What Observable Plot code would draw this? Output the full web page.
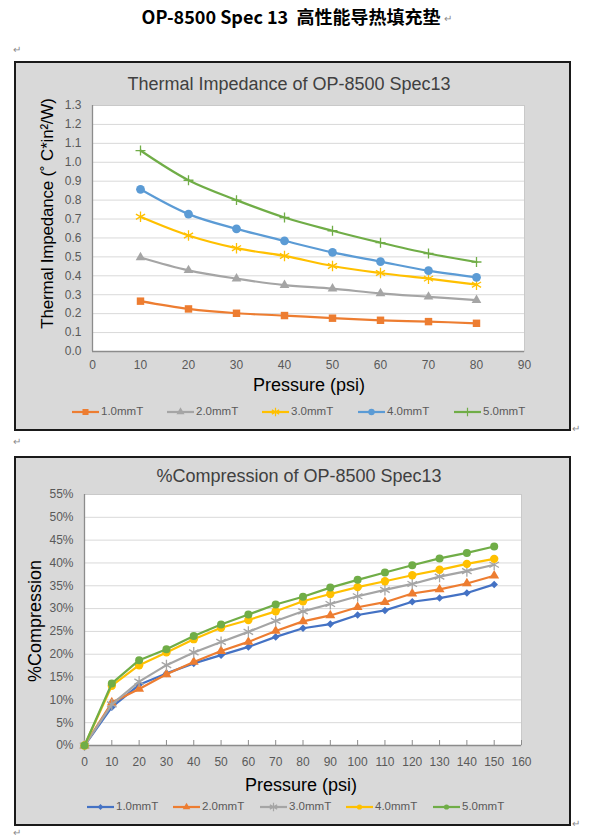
<!DOCTYPE html>
<html><head><meta charset="utf-8">
<script src="https://cdn.jsdelivr.net/npm/d3@7"></script>
<script src="https://cdn.jsdelivr.net/npm/@observablehq/plot@0.6"></script>
<style>
body{margin:0;background:#fff;}
#page{position:relative;width:590px;height:839px;overflow:hidden;font-family:"Liberation Sans",Arial,sans-serif;}
.abs{position:absolute;white-space:pre;line-height:1;}
.box{position:absolute;background:#d9d9d9;border:2px solid #1a1a1a;box-sizing:border-box;}
.ret{position:absolute;color:#8a8a8a;font-size:10px;line-height:1;}
</style></head><body><div id="page"></div>
<script>
// ---------- data ----------
const seriesNames = ["1.0mmT", "2.0mmT", "3.0mmT", "4.0mmT", "5.0mmT"];

// Thermal impedance chart
const pressure1 = [10, 20, 30, 40, 50, 60, 70, 80];
const imp1_0 = [0.266, 0.225, 0.202, 0.190, 0.176, 0.165, 0.158, 0.149];
const imp2_0 = [0.497, 0.429, 0.385, 0.351, 0.332, 0.307, 0.289, 0.271];
const imp3_0 = [0.712, 0.613, 0.546, 0.505, 0.452, 0.415, 0.385, 0.353];
const imp4_0 = [0.857, 0.726, 0.648, 0.585, 0.524, 0.475, 0.427, 0.392];
const imp5_0 = [1.062, 0.905, 0.800, 0.708, 0.638, 0.575, 0.518, 0.473];
const impTicksY = [0, 0.1, 0.2, 0.3, 0.4, 0.5, 0.6, 0.7, 0.8, 0.9, 1.0, 1.1, 1.2, 1.3];
const impTicksX = [0, 10, 20, 30, 40, 50, 60, 70, 80, 90];

// Compression chart (%)
const pressure2 = [0, 10, 20, 30, 40, 50, 60, 70, 80, 90, 100, 110, 120, 130, 140, 150];
const comp1_0 = [0, 8.4, 13.3, 15.8, 18.0, 19.8, 21.6, 23.8, 25.7, 26.6, 28.6, 29.6, 31.5, 32.3, 33.4, 35.3];
const comp2_0 = [0, 9.4, 12.4, 15.6, 18.3, 20.7, 22.7, 25.1, 27.2, 28.5, 30.3, 31.4, 33.3, 34.2, 35.5, 37.2];
const comp3_0 = [0, 9.0, 14.0, 17.6, 20.4, 22.7, 24.9, 27.3, 29.4, 31.0, 32.7, 34.1, 35.4, 37.0, 38.2, 39.6];
const comp4_0 = [0, 13.1, 17.6, 20.4, 23.3, 25.8, 27.5, 29.4, 31.6, 33.2, 34.7, 36.0, 37.3, 38.5, 39.8, 40.9];
const comp5_0 = [0, 13.6, 18.7, 21.1, 24.0, 26.5, 28.7, 30.9, 32.6, 34.6, 36.3, 37.9, 39.5, 41.0, 42.2, 43.6];
const compTicksY = [0, 5, 10, 15, 20, 25, 30, 35, 40, 45, 50, 55];
const compTicksX = [0, 10, 20, 30, 40, 50, 60, 70, 80, 90, 100, 110, 120, 130, 140, 150, 160];

// ---------- styles ----------
const impStyles = [
  {color: "#ED7D31", symbol: "square", r: 4.2, filled: true, lr: 3.4},
  {color: "#A5A5A5", symbol: "triangle", r: 3.6, filled: true, lr: 3.0},
  {color: "#FFC000", symbol: "asterisk", r: 5.0, filled: false, lr: 4.0},
  {color: "#5B9BD5", symbol: "circle", r: 4.4, filled: true, lr: 3.2},
  {color: "#70AD47", symbol: "plus", r: 3.3, filled: false, lr: 2.8}
];
const compStyles = [
  {color: "#4472C4", symbol: "diamond2", r: 3.4, filled: true, lr: 2.6},
  {color: "#ED7D31", symbol: "triangle", r: 3.7, filled: true, lr: 2.8},
  {color: "#A5A5A5", symbol: "asterisk", r: 5.2, filled: false, lr: 4.0},
  {color: "#FFC000", symbol: "circle", r: 4.2, filled: true, lr: 2.6},
  {color: "#70AD47", symbol: "circle", r: 4.0, filled: true, lr: 2.6}
];

const page = document.getElementById("page");
function addDiv(cls, text, css) {
  const d = document.createElement("div");
  d.className = cls;
  d.textContent = text;
  Object.assign(d.style, css);
  page.appendChild(d);
  return d;
}

// title
addDiv("abs", "OP-8500 Spec 13  高性能导热填充垫", {
  left: "0px", width: "582px", top: "7px", textAlign: "center",
  fontFamily: "'Noto Sans CJK SC', sans-serif", fontWeight: "bold", fontSize: "18px", color: "#000"
});
addDiv("ret", "↵", {left: "444px", top: "14px"});
addDiv("ret", "↵", {left: "13px", top: "45px"});
addDiv("ret", "↵", {left: "572px", top: "424px"});
addDiv("ret", "↵", {left: "13px", top: "437px"});
addDiv("ret", "↵", {left: "572px", top: "819px"});
addDiv("ret", "↵", {left: "13px", top: "828px"});

function chart(cfg) {
  const box = document.createElement("div");
  box.className = "box";
  Object.assign(box.style, {left: "14px", top: cfg.top + "px", width: "557px", height: cfg.height + "px"});
  page.appendChild(box);

  const marks = [
    Plot.frame({fill: "#fff"}),
    Plot.gridY(cfg.yTicks, {stroke: "#d9d9d9", strokeOpacity: 1, strokeWidth: 1}),
    Plot.frame({stroke: "#c9c9c9"}),
    Plot.ruleX([cfg.xDomain[0]], {stroke: "#8c8c8c", strokeWidth: 1.3}),
    Plot.ruleY([cfg.yDomain[0]], {stroke: "#8c8c8c", strokeWidth: 1.3}),
    Plot.axisY(cfg.yTicks, {tickSize: 0, tickPadding: cfg.yPad, tickFormat: cfg.yFmt, fill: "#595959", fontSize: 12, label: null}),
    Plot.axisX(cfg.xTicks, {tickSize: 0, tickPadding: cfg.xPad, fill: "#595959", fontSize: 12, label: null})
  ];
  if (cfg.innerTicks) {
    const len = 5 / (cfg.height - cfg.mt - cfg.mb) * (cfg.yDomain[1] - cfg.yDomain[0]);
    marks.push(Plot.ruleX(cfg.xTicks, {x: d => d, y1: cfg.yDomain[0], y2: cfg.yDomain[0] + len, stroke: "#8c8c8c", strokeWidth: 1}));
  }
  cfg.series.forEach((vals, i) => {
    const s = cfg.styles[i];
    const data = cfg.xs.map((x, j) => ({x, y: vals[j]}));
    marks.push(Plot.line(data, {x: "x", y: "y", stroke: s.color, strokeWidth: 2.2, curve: cfg.curve}));
    marks.push(Plot.dot(data, s.filled
      ? {x: "x", y: "y", symbol: s.symbol, r: s.r, fill: s.color, stroke: "none"}
      : {x: "x", y: "y", symbol: s.symbol, r: s.r, fill: "none", stroke: s.color, strokeWidth: 1.3}));
  });

  const svg = Plot.plot({
    width: 590, height: cfg.height,
    marginLeft: cfg.ml, marginRight: cfg.mr, marginTop: cfg.mt, marginBottom: cfg.mb,
    x: {domain: cfg.xDomain},
    y: {domain: cfg.yDomain},
    style: {background: "transparent", fontFamily: "'Liberation Sans', Arial, sans-serif", overflow: "visible"},
    marks
  });
  Object.assign(svg.style, {position: "absolute", left: "0px", top: cfg.top + "px"});
  page.appendChild(svg);

  // chart title
  addDiv("abs", cfg.title, {left: (cfg.titleX - 200) + "px", width: "400px", textAlign: "center",
    top: (cfg.titleY - 9) + "px", fontSize: "18px", color: "#404040"});
  // x axis title
  addDiv("abs", "Pressure (psi)", {left: (cfg.xTitleX - 150) + "px", width: "300px", textAlign: "center",
    top: (cfg.xTitleY - 9) + "px", fontSize: "18px", color: "#000"});
  // y axis title (rotated)
  addDiv("abs", cfg.yTitle, {left: (cfg.yTitleX - 200) + "px", width: "400px", textAlign: "center",
    top: (cfg.yTitleY - 9) + "px", fontSize: cfg.yTitleSize + "px", letterSpacing: cfg.yTitleLS + "px",
    color: "#000", transform: "rotate(-90deg)"});

  // legend
  seriesNames.forEach((name, i) => {
    const s = cfg.styles[i];
    const x0 = cfg.legendX[i];
    const ns = "http://www.w3.org/2000/svg";
    const lg = document.createElementNS(ns, "svg");
    lg.setAttribute("width", 28); lg.setAttribute("height", 14);
    Object.assign(lg.style, {position: "absolute", left: x0 + "px", top: (cfg.legendY - 7) + "px", overflow: "visible"});
    const ln = document.createElementNS(ns, "line");
    ln.setAttribute("x1", 0); ln.setAttribute("x2", 27); ln.setAttribute("y1", 7); ln.setAttribute("y2", 7);
    ln.setAttribute("stroke", s.color); ln.setAttribute("stroke-width", 2.2);
    lg.appendChild(ln);
    const symMap = {square: d3.symbolSquare, triangle: d3.symbolTriangle, asterisk: d3.symbolAsterisk,
      circle: d3.symbolCircle, plus: d3.symbolPlus, diamond2: d3.symbolDiamond2};
    const p = document.createElementNS(ns, "path");
    p.setAttribute("d", d3.symbol(symMap[s.symbol], Math.PI * s.lr * s.lr)());
    p.setAttribute("transform", "translate(13.5,7)");
    if (s.filled) { p.setAttribute("fill", s.color); }
    else { p.setAttribute("fill", "none"); p.setAttribute("stroke", s.color); p.setAttribute("stroke-width", 1.2); }
    lg.appendChild(p);
    page.appendChild(lg);
    addDiv("abs", name, {left: (x0 + 29) + "px", top: (cfg.legendY - 6) + "px", fontSize: "11.5px", color: "#595959"});
  });
}

chart({
  top: 61, height: 370, ml: 92, mr: 66, mt: 44, mb: 80,
  xDomain: [0, 90], yDomain: [0, 1.3], xTicks: impTicksX, yTicks: impTicksY,
  yFmt: d3.format(".1f"), yPad: 11, xPad: 9,
  xs: pressure1, series: [imp1_0, imp2_0, imp3_0, imp4_0, imp5_0], styles: impStyles,
  curve: "catmull-rom", innerTicks: false,
  title: "Thermal Impedance of OP-8500 Spec13", titleX: 289, titleY: 84,
  xTitleX: 309, xTitleY: 385,
  yTitle: "Thermal Impedance (˚ C*in²/W)", yTitleX: 47, yTitleY: 214, yTitleSize: 17, yTitleLS: -0.2,
  legendX: [72, 167, 262, 358, 454], legendY: 412
});

chart({
  top: 456, height: 370, ml: 84, mr: 69, mt: 38, mb: 81,
  xDomain: [0, 160], yDomain: [0, 55], xTicks: compTicksX, yTicks: compTicksY,
  yFmt: d => d + "%", yPad: 11, xPad: 12,
  xs: pressure2, series: [comp1_0, comp2_0, comp3_0, comp4_0, comp5_0], styles: compStyles,
  curve: "linear", innerTicks: true,
  title: "%Compression of OP-8500 Spec13", titleX: 299, titleY: 476,
  xTitleX: 301, xTitleY: 785,
  yTitle: "%Compression", yTitleX: 35, yTitleY: 621, yTitleSize: 18, yTitleLS: 0,
  legendX: [87, 173, 260, 346, 433], legendY: 807
});
</script>
</body></html>
